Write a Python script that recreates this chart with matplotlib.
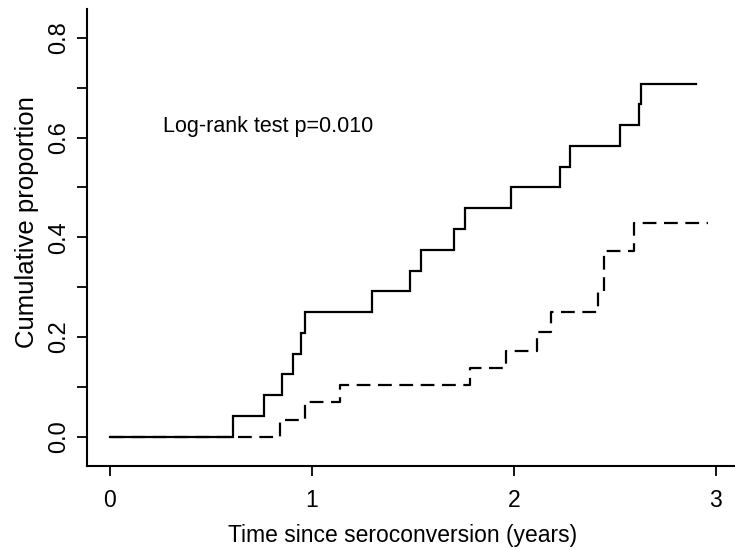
import matplotlib
matplotlib.use("Agg")
import matplotlib.pyplot as plt

plt.rcParams['font.family'] = ['Liberation Sans', 'DejaVu Sans']

# Group 1 (solid line): event times and cumulative proportion
solid_times = [0.0, 0.61, 0.764, 0.854, 0.906, 0.945, 0.967, 1.30, 1.487, 1.54,
               1.705, 1.757, 1.986, 2.228, 2.276, 2.528, 2.62, 2.631]
solid_values = [0.0, 0.0417, 0.0833, 0.125, 0.1667, 0.2083, 0.25, 0.2917, 0.3333,
                0.375, 0.4167, 0.4583, 0.5, 0.5417, 0.5833, 0.625, 0.6667, 0.7083]
solid_end = 2.90

# Group 2 (dashed line)
dashed_times = [0.0, 0.843, 0.967, 1.137, 1.781, 1.962, 2.115, 2.185, 2.416, 2.446, 2.594]
dashed_values = [0.0, 0.0345, 0.069, 0.1034, 0.138, 0.173, 0.211, 0.250, 0.29, 0.372, 0.429]
dashed_end = 2.96

x_ticks = [0, 1, 2, 3]
y_ticks = [0.0, 0.2, 0.4, 0.6, 0.8]
y_minor = [0.1, 0.3, 0.5, 0.7]
annotation = "Log-rank test p=0.010"

fig = plt.figure(figsize=(7.35, 5.5), dpi=100)
ax = fig.add_axes([0.1188, 0.1533, 1.0 - 0.1188, 0.9836 - 0.1533])

ax.step(solid_times + [solid_end], solid_values + [solid_values[-1]], where='post',
        color='black', lw=1.6, solid_joinstyle='miter')
ax.step(dashed_times + [dashed_end], dashed_values + [dashed_values[-1]], where='post',
        color='black', lw=1.6, linestyle=(0, (6.2, 3.4)))

ax.set_xlim(-0.112, 3.095)
ax.set_ylim(-0.058, 0.858)

for s in ['top', 'right']:
    ax.spines[s].set_visible(False)
for s in ['left', 'bottom']:
    ax.spines[s].set_linewidth(1.5)

ax.set_xticks(x_ticks)
ax.set_xticklabels([str(v) for v in x_ticks])
ax.set_yticks(y_ticks)
ax.set_yticklabels([f"{v:.1f}" for v in y_ticks])
ax.set_yticks(y_minor, minor=True)

ax.tick_params(axis='x', direction='out', length=7, width=1.3, labelsize=16.5, pad=10)
ax.tick_params(axis='y', which='both', direction='out', length=7, width=1.3,
               labelsize=17, pad=5.5)
for lab in ax.get_yticklabels():
    lab.set_rotation(90)
    lab.set_va('center')

ax.set_xlabel("Time since seroconversion (years)", fontsize=16.5)
ax.xaxis.set_label_coords(0.486, -0.128)
ax.set_ylabel("Cumulative proportion", fontsize=18.5)
ax.yaxis.set_label_coords(-0.074, 0.534)

ax.text(0.261, 0.612, annotation, fontsize=15.5, ha='left', va='baseline')

fig.savefig("out.png", dpi=100)
